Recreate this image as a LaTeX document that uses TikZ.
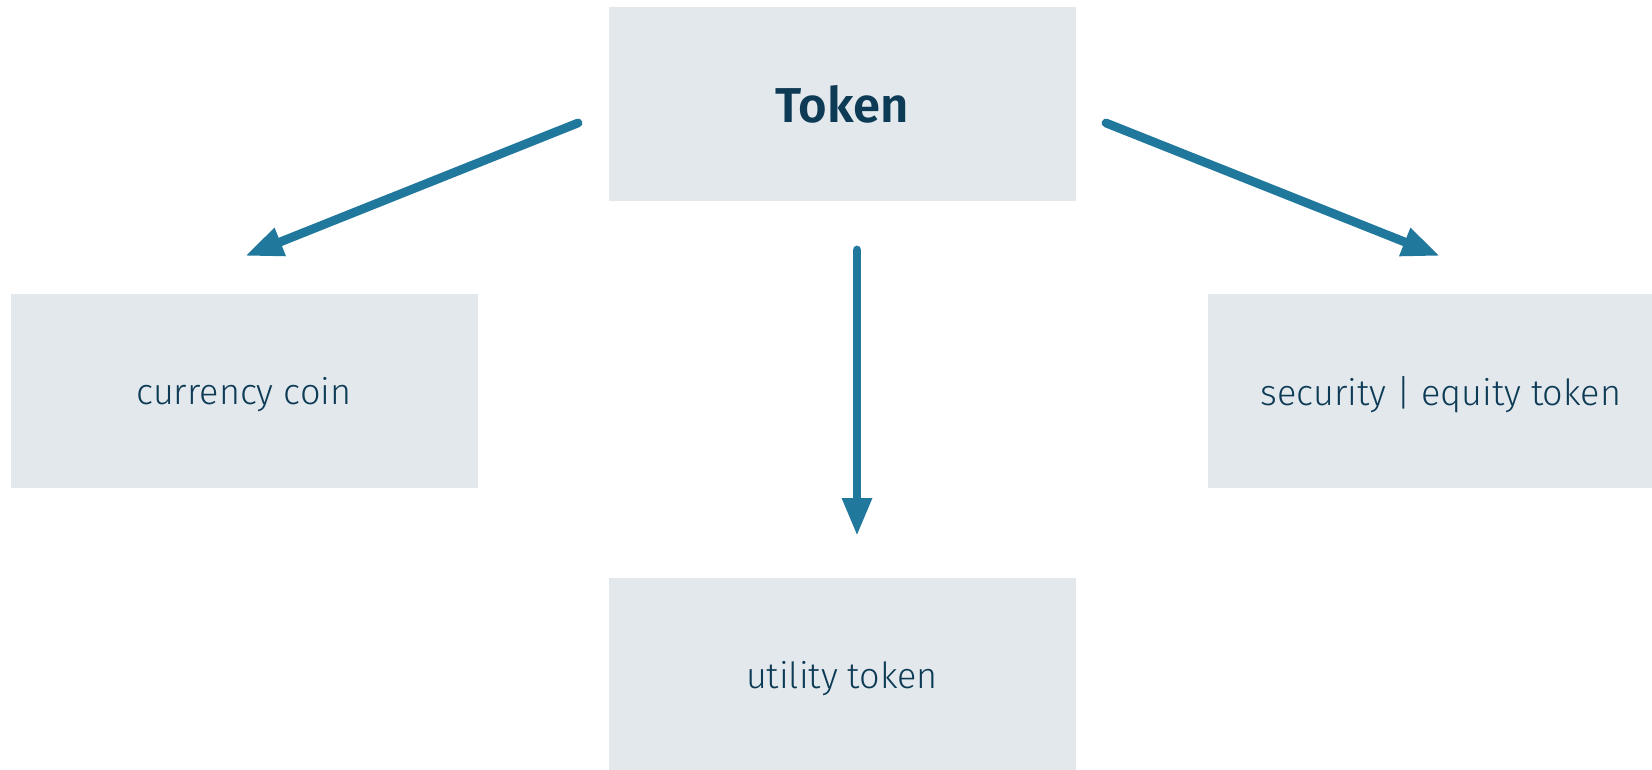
\documentclass[tikz,border=0pt]{standalone}
\usepackage{fontspec}
\setmainfont{Fira Sans}
\newfontfamily\lightfont{Fira Sans Light}
\newfontfamily\headfont{Fira Sans SemiBold}
\usetikzlibrary{arrows.meta}

\definecolor{boxgray}{HTML}{E3E8EC}
\definecolor{arrowblue}{HTML}{20789C}
\definecolor{textnavy}{HTML}{0D3B56}

\begin{document}
\begin{tikzpicture}[x=1pt,y=-1pt,
    tokenbox/.style={fill=boxgray, inner sep=0pt, minimum width=467pt,
        minimum height=194pt, text=textnavy, text depth=0pt,
        font=\lightfont\fontsize{36}{40}\selectfont},
    arr/.style={draw=arrowblue, line width=8.8pt, line cap=round,
        -{Triangle[length=38pt,width=28pt]}}]
    \useasboundingbox (0,0) rectangle (1652,770);
    \clip (0,0) rectangle (1652,770);

    % the four boxes
    \node[tokenbox, font=\headfont\fontsize{49}{52}\selectfont] (token) at (842,104) {Token};
    \node[tokenbox] (currency) at (244,391) {currency coin};
    \node[tokenbox] (security) at (1441,391) {security | equity token};
    \node[tokenbox] (utility) at (842,675) {utility token};

    % arrow ends, kept clear of the boxes
    \coordinate (tl) at (578,123);
    \coordinate (tr) at (1106,123);
    \coordinate (tb) at (857,250);
    \coordinate (cl) at (245,256);
    \coordinate (sr) at (1440,256);
    \coordinate (ub) at (857,536);

    \draw[arr] (tl) -- (cl);
    \draw[arr] (tr) -- (sr);
    \draw[arr] (tb) -- (ub);
\end{tikzpicture}
\end{document}
